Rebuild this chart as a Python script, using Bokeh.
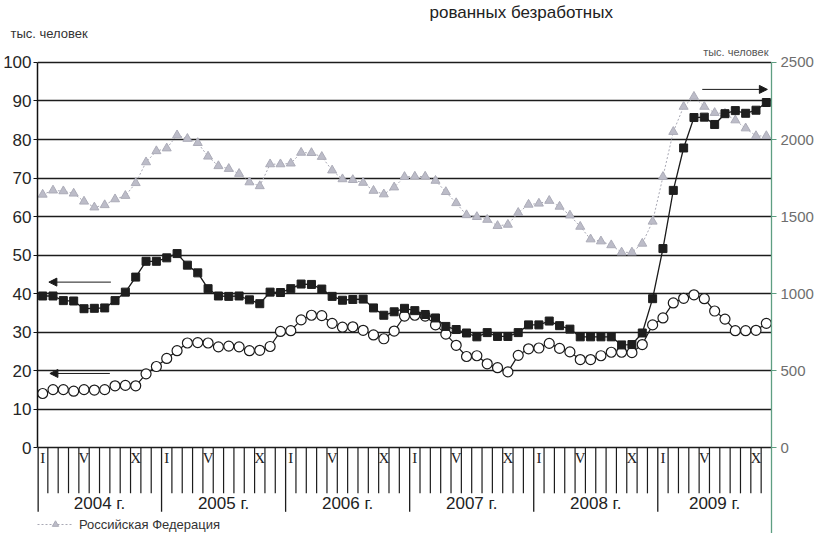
from bokeh.plotting import figure
from bokeh.models import (Range1d, LinearAxis, FixedTicker, Grid, Label, Arrow,
                          NormalHead, Legend, LegendItem, Title)
from bokeh.core.properties import value
from bokeh.embed import file_html
from bokeh.resources import INLINE

# ---------------- data (monthly, Jan 2004 - Nov 2009) ----------------
years = ["2004 г.", "2005 г.", "2006 г.", "2007 г.", "2008 г.", "2009 г."]
month_marks = {0: "I", 4: "V", 9: "X"}

# region, thousand persons (left axis) - filled squares
region_a = [39.4, 39.4, 38.2, 38.1, 36.1, 36.2, 36.3, 38.2, 40.4, 44.3, 48.4, 48.4,
            49.3, 50.4, 47.4, 45.4, 41.3, 39.4, 39.3, 39.4, 38.4, 37.4, 40.4, 40.3,
            41.3, 42.5, 42.4, 41.2, 39.3, 38.3, 38.5, 38.6, 36.3, 34.4, 35.3, 36.2,
            35.6, 34.6, 33.7, 31.5, 30.7, 29.8, 28.8, 29.9, 28.9, 28.9, 29.9, 31.9,
            31.9, 32.9, 31.7, 30.8, 28.8, 28.8, 28.8, 28.8, 26.7, 26.8, 29.8, 38.7,
            51.7, 66.8, 77.8, 85.7, 85.8, 83.9, 86.7, 87.5, 86.8, 87.6, 89.6]

# region, thousand persons (left axis) - open circles
region_b = [14.1, 15.1, 15.1, 14.7, 15.1, 15.0, 15.1, 16.1, 16.2, 16.1, 19.2, 21.1,
            23.2, 25.2, 27.2, 27.3, 27.2, 26.2, 26.4, 26.2, 25.2, 25.3, 26.3, 30.2,
            30.4, 33.2, 34.4, 34.3, 32.3, 31.3, 31.4, 30.5, 29.3, 28.3, 30.3, 34.2,
            34.4, 34.2, 31.9, 29.5, 26.6, 23.7, 23.9, 21.8, 20.8, 19.7, 24.0, 25.7,
            25.9, 27.1, 25.8, 24.9, 22.9, 22.9, 23.9, 24.8, 24.8, 24.7, 26.8, 31.9,
            33.7, 37.6, 38.8, 39.7, 38.7, 35.5, 33.4, 30.4, 30.4, 30.5, 32.3]

# Russian Federation, thousand persons (right axis) - triangles
russia = [1643, 1670, 1665, 1650, 1598, 1560, 1575, 1613, 1635, 1718, 1853, 1925,
          1943, 2028, 2005, 1978, 1890, 1828, 1810, 1778, 1723, 1698, 1840, 1840,
          1845, 1915, 1913, 1888, 1800, 1743, 1738, 1720, 1668, 1645, 1690, 1758,
          1760, 1760, 1733, 1660, 1588, 1510, 1498, 1480, 1440, 1448, 1525, 1578,
          1585, 1603, 1565, 1508, 1435, 1353, 1340, 1315, 1268, 1268, 1325, 1468,
          1758, 2050, 2213, 2278, 2213, 2173, 2168, 2125, 2073, 2023, 2023]

left_ticks = list(range(0, 101, 10))
right_ticks = list(range(0, 2501, 500))
RATIO = 25  # right axis units per left axis unit

n = len(region_a)
xs = [i + 0.5 for i in range(n)]

# ---------------- layout ----------------
W, H = 816, 533
HEAD = 39      # approx. height of the two title rows above the frame
PX = 3.87      # pixels per left-axis unit
Y100 = 60      # figure row of the 100 line
Y0 = Y100 + 100 * PX
ytop = 100 + (Y100 - HEAD) / PX
ybot = -(H - Y0) / PX

SANS = "Liberation Sans"
SERIF = "Liberation Serif"

p = figure(width=W, height=H, output_backend="svg", toolbar_location=None,
           x_range=Range1d(0, n), y_range=Range1d(ybot, ytop),
           x_axis_location=None, y_axis_location=None,
           min_border=0, outline_line_color=None,
           background_fill_color="white", border_fill_color="white")
p.xgrid.visible = False
p.ygrid.visible = False
p.extra_y_ranges = {"right": Range1d(ybot * RATIO, ytop * RATIO)}

# titles / captions above the frame (first added sits nearest the frame)
p.add_layout(Title(text="тыс. человек", align="left", offset=-27, standoff=2,
                   text_font=SANS, text_font_size="13px", text_font_style="normal",
                   text_color="#333333"), "above")
p.add_layout(Title(text="рованных безработных", align="left", offset=392, standoff=1,
                   text_font=SANS, text_font_size="17px", text_font_style="normal",
                   text_color="#222222"), "above")

# axes
la = LinearAxis(bounds=(0, 100), ticker=FixedTicker(ticks=left_ticks))
la.axis_line_color = "#111111"
la.axis_line_width = 1.5
la.major_tick_line_color = "#111111"
la.major_tick_out = 4
la.major_tick_in = 0
la.minor_tick_line_color = None
la.major_label_standoff = 2
la.major_label_text_font = SANS
la.major_label_text_font_size = "17px"
la.major_label_text_color = "#262626"
p.add_layout(la, "left")

GREEN = "#5e9e82"
ra = LinearAxis(y_range_name="right", bounds=(ybot * RATIO, 2500),
                ticker=FixedTicker(ticks=right_ticks))
ra.axis_line_color = GREEN
ra.axis_line_width = 1.3
ra.major_tick_line_color = GREEN
ra.major_tick_out = 5
ra.major_tick_in = 0
ra.minor_tick_line_color = None
ra.major_label_standoff = 4
ra.major_label_text_font = SANS
ra.major_label_text_font_size = "15px"
ra.major_label_text_color = "#6e6e6e"
p.add_layout(ra, "right")

p.add_layout(Grid(dimension=1, ticker=FixedTicker(ticks=left_ticks),
                  grid_line_color="#1c1c1c", grid_line_width=1.3))

# month ticks below the zero line
month_lines = [k for k in range(1, n) if k % 12 != 0]
p.segment(x0=month_lines, y0=[0] * len(month_lines), x1=month_lines,
          y1=[-11.8] * len(month_lines), line_color="#1c1c1c", line_width=1.2)
year_lines = list(range(0, n, 12))
p.segment(x0=year_lines, y0=[0] * len(year_lines), x1=year_lines,
          y1=[-16.6] * len(year_lines), line_color="#1c1c1c",
          line_width=[2.6] + [1.3] * (len(year_lines) - 1))

# roman month numerals
rx, rt = [], []
for yi in range(len(years)):
    for mi, lab in month_marks.items():
        k = yi * 12 + mi
        if k < n:
            rx.append(k + 0.5)
            rt.append(lab)
p.text(x=rx, y=[-0.6] * len(rx), text=rt, text_align="center", text_baseline="top",
       text_font=value(SERIF), text_font_size="15px", text_color="#222222")

# year labels
yx = [(12 * i + min(12 * i + 12, n)) / 2 for i in range(len(years))]
p.text(x=yx, y=[-14.4] * len(yx), text=years, text_align="center",
       text_baseline="middle", text_font=value(SANS), text_font_size="17px",
       text_color="#222222")

# ---------------- series ----------------
rf_line = p.line(xs, russia, y_range_name="right", line_color="#a8a8b4",
                 line_width=1, line_dash="2 2")
rf_pts = p.scatter(xs, russia, y_range_name="right", marker="triangle", size=9,
                   fill_color="#bcbcc8", line_color="#acacb8")

p.line(xs, region_b, line_color="#1a1a1a", line_width=1.2)
p.scatter(xs, region_b, marker="circle", size=10, fill_color="white",
          line_color="#1a1a1a", line_width=1.2)

p.line(xs, region_a, line_color="#1a1a1a", line_width=1.3)
p.scatter(xs, region_a, marker="square", size=8, fill_color="#1e1e1e",
          line_color="#1e1e1e")

# arrows indicating which axis a series belongs to
arrows = [(7.1, 43.0, 1.1, 43.0), (7.0, 19.3, 1.2, 19.3), (64.3, 93.0, 70.6, 93.0)]
for x0, y0, x1, y1 in arrows:
    p.add_layout(Arrow(end=NormalHead(size=8, fill_color="#1a1a1a", line_color="#1a1a1a"),
                       x_start=x0, y_start=y0, x_end=x1, y_end=y1,
                       line_color="#1a1a1a", line_width=1))

# right-axis caption (inside the frame, right-aligned at the axis)
p.add_layout(Label(x=n, y=102.8, x_offset=-3, text="тыс. человек", text_align="right",
                   text_font=SANS, text_font_size="11px", text_color="#555555",
                   text_baseline="middle"))

# legend
legend = Legend(items=[LegendItem(label="Российская Федерация",
                                  renderers=[rf_line, rf_pts])],
                location=(0, 1), border_line_color=None, background_fill_alpha=0,
                label_text_font=SANS, label_text_font_size="13px",
                label_text_color="#333333", glyph_width=36, glyph_height=16,
                padding=0, margin=0, label_standoff=6)
p.add_layout(legend)

open("out.html", "w").write(file_html(p, INLINE))
